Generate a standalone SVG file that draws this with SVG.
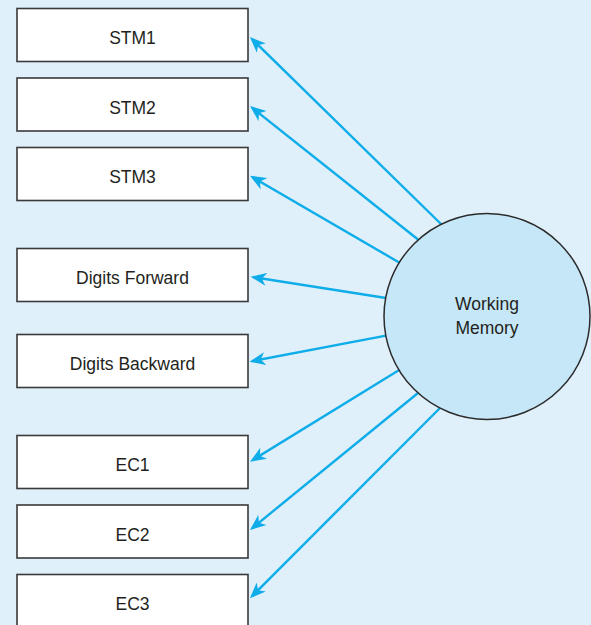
<svg xmlns="http://www.w3.org/2000/svg" width="591" height="625" viewBox="0 0 591 625">
<style>
.box{fill:#ffffff;stroke:#3a3a3a;stroke-width:1.6}
.lbl{font-family:"Liberation Sans",Arial,sans-serif;font-size:17.5px;fill:#231f20;text-anchor:middle}
.conn{stroke:#0eade9;stroke-width:2.4;fill:none;marker-end:url(#ah)}
</style>
<defs>
<marker id="ah" markerUnits="userSpaceOnUse" markerWidth="18" markerHeight="14" refX="13" refY="7" orient="auto">
<path d="M16,7 L0,0.5 L4.5,7 L0,13.5 Z" fill="#0eade9"/>
</marker>
</defs>
<rect x="0" y="0" width="591" height="625" fill="#dff0fa"/>
<g id="connectors">
<line class="conn" x1="442" y1="225" x2="252.1" y2="39.1"/>
<line class="conn" x1="418" y1="239.5" x2="252.35" y2="107.9"/>
<line class="conn" x1="400" y1="263" x2="252.6" y2="177.2"/>
<line class="conn" x1="386" y1="298" x2="253.5" y2="277.2"/>
<line class="conn" x1="386" y1="335.6" x2="252.4" y2="361.1"/>
<line class="conn" x1="400" y1="369.5" x2="252.6" y2="460.1"/>
<line class="conn" x1="418" y1="393" x2="252.3" y2="528.1"/>
<line class="conn" x1="441" y1="407" x2="252.1" y2="596.2"/>
</g>
<g id="stm1"><rect class="box" x="17" y="8.5" width="231" height="53"/><text class="lbl" x="132.5" y="44">STM1</text></g>
<g id="stm2"><rect class="box" x="17" y="78" width="231" height="53"/><text class="lbl" x="132.5" y="113.5">STM2</text></g>
<g id="stm3"><rect class="box" x="17" y="147.5" width="231" height="53"/><text class="lbl" x="132.5" y="183">STM3</text></g>
<g id="digits-forward"><rect class="box" x="17" y="248.5" width="231" height="53"/><text class="lbl" x="132.5" y="284">Digits Forward</text></g>
<g id="digits-backward"><rect class="box" x="17" y="334.5" width="231" height="53"/><text class="lbl" x="132.5" y="370">Digits Backward</text></g>
<g id="ec1"><rect class="box" x="17" y="435.5" width="231" height="53"/><text class="lbl" x="132.5" y="471">EC1</text></g>
<g id="ec2"><rect class="box" x="17" y="505" width="231" height="53"/><text class="lbl" x="132.5" y="540.5">EC2</text></g>
<g id="ec3"><rect class="box" x="17" y="574.5" width="231" height="53"/><text class="lbl" x="132.5" y="610">EC3</text></g>
<g id="working-memory">
<circle cx="487" cy="316.5" r="103" fill="#c6e7f7" stroke="#2b2b2b" stroke-width="1.5"/>
<text class="lbl" x="487" y="310">Working</text>
<text class="lbl" x="487" y="334">Memory</text>
</g>
</svg>
